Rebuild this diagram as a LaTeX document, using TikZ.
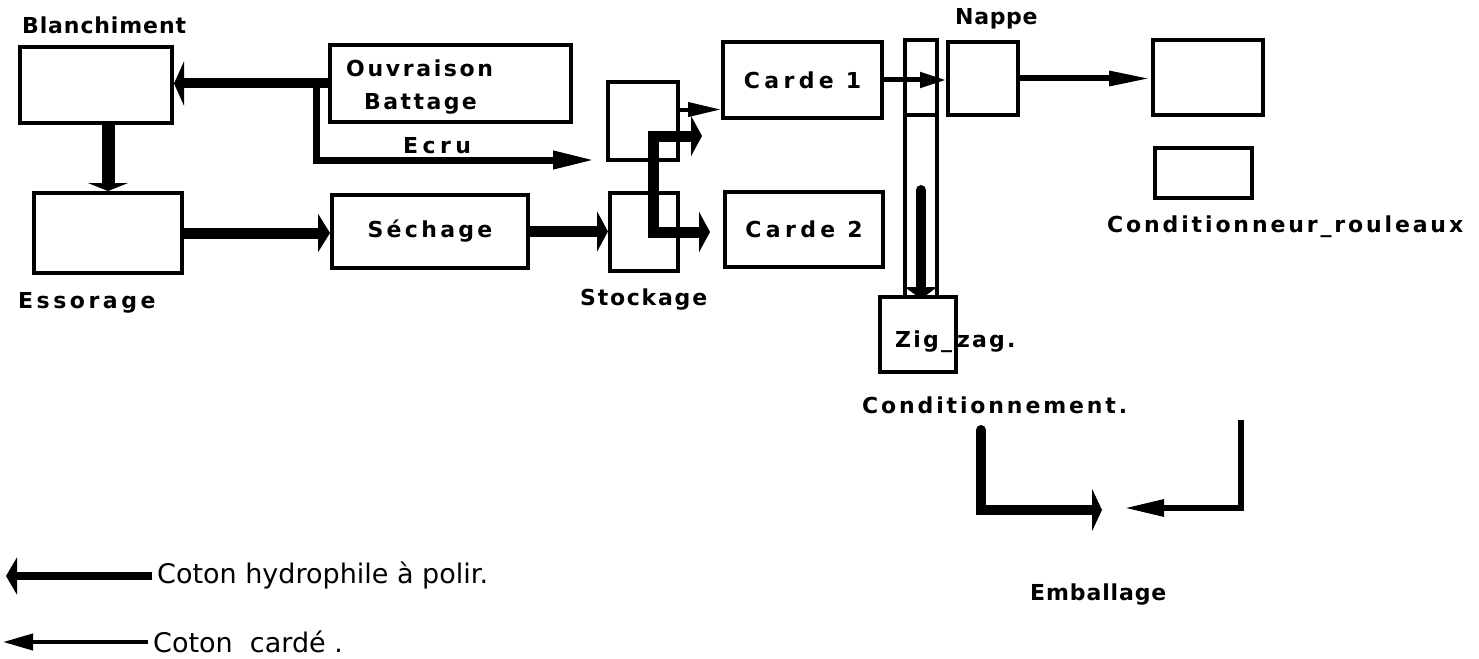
\documentclass[tikz,border=0pt]{standalone}
\usepackage{fontspec}
\setmainfont{DejaVu Sans}
\newfontfamily\labfont{DejaVu Sans}
\newcommand\mylabfont[1]{\labfont\bfseries\fontsize{22}{26}\selectfont\addfontfeature{LetterSpace=#1}}
\usetikzlibrary{arrows.meta,calc}
\begin{document}
\begin{tikzpicture}[x=1pt,y=-1pt,
  box/.style={draw, line width=4pt, inner sep=0pt},
  lab/.style={font=\mylabfont{#1}, inner sep=0pt},
  lab/.default=6,
  legt/.style={font=\fontsize{27}{31}\selectfont, inner sep=0pt, anchor=west},
  fathead/.tip={Triangle[length=11pt,width=40pt]},
  slimhead/.tip={Triangle[length=36pt,width=15pt]},
  fat/.style={line width=11pt, -fathead},
  slim/.style={line width=5pt, -slimhead}]
\useasboundingbox (0,0) rectangle (1479,658);
\fill[white] (0,0) rectangle (1479,658);

% boxes
\node[box, minimum width=152pt, minimum height=76pt] (blanch) at (96,85) {};
\node[box, minimum width=241pt, minimum height=77pt] (ouv) at (450.5,83.5) {};
\node[box, minimum width=148pt, minimum height=80pt] (ess) at (108,233) {};
\node[box, minimum width=196pt, minimum height=73pt, lab=15] (sech) at (430,231.5) {Séchage};
\node[box, minimum width=70pt, minimum height=78pt] (stk1) at (643,121) {};
\node[box, minimum width=68pt, minimum height=78pt] (stk2) at (644,232) {};
\node[box, minimum width=159pt, minimum height=76pt, lab=20] (c1) at (802.5,80) {Carde 1};
\node[box, minimum width=158pt, minimum height=75pt, lab=20] (c2) at (804,229.5) {Carde 2};
\node[box, minimum width=32pt, minimum height=75pt] (tube1) at (921,77.5) {};
\node[box, minimum width=32pt, minimum height=182pt] (tube2) at (921,206) {};
\node[box, minimum width=70pt, minimum height=73pt] (nappe) at (983,78.5) {};
\node[box, minimum width=110pt, minimum height=75pt] (r1) at (1208,77.5) {};
\node[box, minimum width=97pt, minimum height=50pt] (r2) at (1203.5,173) {};
\node[box, minimum width=76pt, minimum height=75pt] (zig) at (918,334.5) {};

% labels
\node[lab=4, anchor=west] (tBl) at (22,25) {Blanchiment};
\node[lab=12, anchor=west] (tOu) at (346,68) {Ouvraison};
\node[lab=11, anchor=west] (tBa) at (364,104) {Battage};
\node[lab=20, anchor=west] (tEc) at (403,146) {Ecru};
\node[lab=16, anchor=west] (tEs) at (18,303) {Essorage};
\node[lab=8, anchor=west] (tSt) at (580,300) {Stockage};
\node[lab=3, anchor=west] (tNa) at (955,19) {Nappe};
\node[lab=13, anchor=west] (tCr) at (1107,227) {Conditionneur\_rouleaux};
\node[lab=10, anchor=west] (tZz) at (895,342) {Zig\_\hspace{5pt}zag.};
\node[lab=13, anchor=west] (tCo) at (862,405) {Conditionnement.};
\node[lab=4, anchor=west] (tEm) at (1030,595) {Emballage};

% connectors
\draw[fat, line width=10pt, -{Triangle[length=10pt,width=44pt]}] (ouv.west) -- (blanch.east |- ouv.west);
\coordinate (br) at (316,85);
\coordinate (ecruEnd) at (595,160);
\draw[slim, line width=7pt, -{Triangle[length=42pt,width=17pt]}] (br) |- (ecruEnd);
\draw[fat, line width=13pt, -{Triangle[length=8pt,width=40pt]}] (ess.north |- blanch.south) -- (ess.north);
\draw[fat, -{Triangle[length=12pt,width=38pt]}] (ess.east) -- (sech.west |- ess.east);
\draw[fat] (sech.east) -- (stk2.west |- sech.east);
\coordinate (sa) at ($(stk1.south east)!0.64!(stk1.north east)$);
\draw[slim, line width=4pt, -{Triangle[length=33pt,width=14pt]}] (sa) -- (c1.west |- sa);
\coordinate (s1) at (702,136);
\coordinate (sj) at (653,184);
\coordinate (s2) at (710,232);
\draw[line width=11pt, fathead-fathead] (s1) -| (sj) |- (s2);
\draw[slim, -{Triangle[length=26pt,width=15pt]}] (c1.east) -- (nappe.west |- c1.east);
\draw[slim, line width=6pt, -{Triangle[length=42pt,width=14pt]}] (nappe.east) -- (r1.west |- nappe.east);
\coordinate (tA) at (921,190);
\draw[line width=10pt, line cap=round, -{Triangle[length=12pt,width=32pt]}] (tA) -- (tube2.south);
\coordinate (L1a) at (981,430);
\coordinate (L1b) at (1102,510);
\draw[fat, line width=10pt, line cap=round, -{Triangle[length=10pt,width=42pt]}] (L1a) |- (L1b);
\coordinate (R1a) at (1241,420);
\coordinate (R1b) at (1124,508);
\draw[slim, line width=6pt, -{Triangle[length=40pt,width=16pt]}] (R1a) |- (R1b);

% legend
\coordinate (g1s) at (152,576);
\coordinate (g1e) at (6,576);
\draw[fat, line width=8pt, -{Triangle[length=11pt,width=37pt]}] (g1s) -- (g1e);
\node[legt] (tg1) at (157,576) {Coton hydrophile à polir.};
\coordinate (g2s) at (148,642);
\coordinate (g2e) at (3,642);
\draw[slim, line width=4pt, -{Triangle[length=30pt,width=16pt]}] (g2s) -- (g2e);
\node[legt] (tg2) at (153,642) {Coton\ \ cardé .};
\end{tikzpicture}
\end{document}
